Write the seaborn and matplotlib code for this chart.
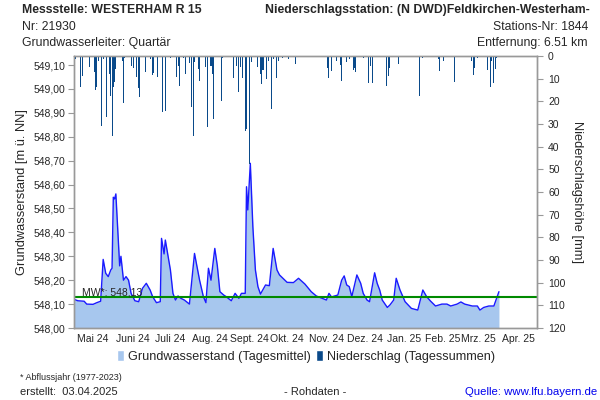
import matplotlib
matplotlib.use("Agg")
import matplotlib.pyplot as plt
import matplotlib.dates as mdates
from matplotlib.patches import Patch
import pandas as pd
import seaborn as sns

# groundwater level (daily mean), day offset from 2024-05-01 -> m ü. NN
gw_day = [0, 3, 8, 10, 15, 18, 21, 23, 25, 27, 29, 30, 31, 32, 33, 36, 37, 39, 41, 43,
          45, 48, 51, 54, 57, 60, 62, 65, 68, 69, 71, 72, 76, 78, 80, 82, 84, 87, 91, 95,
          99, 102, 104, 106, 108, 111, 113, 115, 118, 120, 124, 127, 130, 132, 135, 136, 137, 139, 141, 143,
          145, 147, 151, 154, 157, 160, 162, 168, 173, 177, 182, 187, 191, 199, 201, 203, 208, 211, 213, 215,
          217, 219, 223, 226, 228, 231, 233, 237, 239, 241, 243, 247, 249, 252, 254, 257, 261, 266, 271, 275,
          278, 281, 285, 290, 294, 297, 302, 305, 308, 314, 318, 320, 323, 327, 331, 335]
gw_level = [548.120, 548.114, 548.112, 548.100, 548.099, 548.106, 548.112, 548.287, 548.229, 548.215,
            548.243, 548.250, 548.547, 548.540, 548.561, 548.260, 548.300, 548.200, 548.215, 548.200,
            548.145, 548.114, 548.110, 548.166, 548.187, 548.159, 548.131, 548.106, 548.110, 548.375,
            548.310, 548.368, 548.243, 548.145, 548.117, 548.134, 548.125, 548.117, 548.100, 548.312,
            548.200, 548.131, 548.106, 548.250, 548.200, 548.333, 548.260, 548.152, 548.138, 548.131,
            548.114, 548.145, 548.124, 548.145, 548.145, 548.591, 548.494, 548.689, 548.424, 548.243,
            548.173, 548.142, 548.180, 548.177, 548.333, 548.243, 548.222, 548.191, 548.190, 548.208,
            548.184, 548.152, 548.134, 548.117, 548.145, 548.130, 548.138, 548.200, 548.218, 548.180,
            548.173, 548.131, 548.222, 548.187, 548.145, 548.117, 548.110, 548.231, 548.187, 548.159,
            548.117, 548.086, 548.096, 548.117, 548.208, 548.159, 548.110, 548.082, 548.075, 548.159,
            548.131, 548.113, 548.092, 548.100, 548.100, 548.092, 548.100, 548.109, 548.100, 548.092,
            548.092, 548.075, 548.086, 548.092, 548.092, 548.152]

# precipitation (daily sums), day offset -> mm
rain_day = [1, 5, 7, 12, 16, 17, 18, 19, 22, 23, 26, 28, 29, 30, 31, 32, 33, 38, 39, 40,
            45, 47, 49, 51, 52, 56, 60, 62, 63, 66, 70, 72, 76, 81, 82, 83, 86, 88, 91, 93,
            94, 95, 98, 99, 104, 105, 108, 109, 110, 116, 117, 126, 128, 130, 131, 133, 135, 136, 138, 140,
            145, 147, 148, 149, 152, 153, 156, 157, 160, 161, 164, 169, 175, 200, 201, 203, 207, 210, 211, 215,
            217, 220, 221, 222, 228, 232, 234, 235, 246, 248, 249, 256, 261, 272, 275, 287, 288, 291, 300, 313,
            315, 316, 318, 319, 326, 328, 329, 331, 332, 333]
rain_mm = [1.5, 13.5, 8.7, 4.7, 7.2, 15.0, 13.8, 2.0, 31.0, 1.5, 26.8, 7.9, 17.8, 35.4, 13.5, 11.6, 5.7, 2.4, 20.9, 1.0,
           4.3, 5.3, 9.4, 14.3, 18.2, 7.2, 1.5, 8.2, 7.6, 9.4, 24.6, 24.1, 0.8, 9.1, 4.3, 13.4, 1.0, 8.0, 3.2, 22.6,
           35.1, 2.5, 5.7, 11.2, 5.0, 31.5, 4.3, 8.0, 27.8, 19.7, 1.0, 9.7, 4.3, 16.0, 5.0, 9.7, 33.2, 32.2, 47.6, 2.5,
           5.0, 8.0, 12.3, 6.0, 10.2, 2.0, 23.4, 1.5, 9.8, 2.0, 1.0, 1.5, 3.5, 5.3, 9.7, 6.8, 2.0, 3.8, 10.9, 2.5,
           1.5, 6.2, 5.5, 7.2, 1.0, 12.0, 4.3, 12.0, 13.4, 8.7, 5.5, 3.5, 0.5, 17.5, 1.0, 1.5, 6.8, 2.4, 11.6, 2.0,
           8.2, 5.3, 1.0, 0.5, 6.2, 13.8, 2.0, 12.0, 5.7, 1.0]

month_labels = ["Mai 24", "Juni 24", "Juli 24", "Aug. 24", "Sept. 24", "Okt. 24",
                "Nov. 24", "Dez. 24", "Jan. 25", "Feb. 25", "Mrz. 25", "Apr. 25"]
mean_level = 548.13

start = pd.Timestamp("2024-05-01")
end = pd.Timestamp("2025-05-01")
gw = pd.DataFrame({"date": start + pd.to_timedelta(gw_day, unit="D"), "level": gw_level})
rain = pd.DataFrame({"date": start + pd.to_timedelta(rain_day, unit="D"), "mm": rain_mm})

sns.set_style("white")
plt.rcParams["font.family"] = ["Liberation Sans", "DejaVu Sans"]

fill_col = "#a7c7ee"
line_col = "#1a1aff"
rain_col = "#0a4a8a"
spine_col = "#999999"

fig = plt.figure(figsize=(6, 4), dpi=100)
ax = fig.add_axes([74 / 600, 72 / 400, 463 / 600, 272 / 400])

ax.fill_between(gw["date"], 548.0, gw["level"], color=fill_col, lw=0)
sns.lineplot(data=gw, x="date", y="level", ax=ax, color=line_col, lw=1)
ax.axhline(mean_level, color="#008a00", lw=1.5)
ax.text(start + pd.Timedelta(days=6), mean_level + 0.004, "MW*: 548,13", fontsize=7.5)

ax.set_xlim(start, end)
ax.set_ylim(548.0, 549.138)
ax.set_yticks([548.0 + 0.1 * i for i in range(12)])
ax.set_yticklabels([f"{548.0 + 0.1 * i:.2f}".replace(".", ",") for i in range(12)], fontsize=7.5)
ax.set_xlabel("")
ax.set_ylabel("Grundwasserstand [m ü. NN]", fontsize=9.3)
ax.yaxis.set_label_coords(-0.1, 0.5)

ax.xaxis.set_major_locator(mdates.MonthLocator())
ax.xaxis.set_major_formatter(plt.NullFormatter())
mids = pd.date_range(start, periods=12, freq="MS") + pd.Timedelta(days=15)
ax.set_xticks(mids, minor=True)
ax.set_xticklabels(month_labels, minor=True, fontsize=7.5)
ax.tick_params(axis="x", which="minor", length=0, pad=4)
ax.tick_params(axis="x", which="major", length=4, color=spine_col, direction="out")
ax.tick_params(axis="y", length=4, color=spine_col, direction="out", pad=2, left=True)

ax2 = ax.twinx()
ax2.bar(rain["date"], rain["mm"], width=0.8, color=rain_col, lw=0)
ax2.set_ylim(120, 0)
ax2.set_yticks(range(0, 121, 10))
ax2.set_yticklabels([str(v) for v in range(0, 121, 10)], fontsize=7.5)
ax2.tick_params(axis="y", length=4, color=spine_col, direction="out", pad=4, right=True)
ax2.set_ylabel("Niederschlagshöhe [mm]", fontsize=9.3, rotation=270)
ax2.yaxis.set_label_coords(1.1, 0.5)

for a in (ax, ax2):
    for s in a.spines.values():
        s.set_color(spine_col)
        s.set_linewidth(1)

fig.legend(handles=[Patch(facecolor=fill_col, label="Grundwasserstand (Tagesmittel)"),
                    Patch(facecolor=rain_col, label="Niederschlag (Tagessummen)")],
           loc="center", bbox_to_anchor=(0.51, 0.108), ncol=2, frameon=False, fontsize=9.1,
           handlelength=0.6, handleheight=0.9, handletextpad=0.3, columnspacing=0.4)

fig.text(22 / 600, 1 - 10 / 400, "Messstelle: WESTERHAM R 15", fontsize=8.8, fontweight="bold", va="center")
fig.text(22 / 600, 1 - 27 / 400, "Nr: 21930", fontsize=8.8, va="center")
fig.text(22 / 600, 1 - 43 / 400, "Grundwasserleiter: Quartär", fontsize=8.8, va="center")
fig.text(265 / 600, 1 - 10 / 400, "Niederschlagsstation: (N DWD)Feldkirchen-Westerham-", fontsize=8.8,
         fontweight="bold", va="center")
fig.text(588 / 600, 1 - 27 / 400, "Stations-Nr: 1844", fontsize=8.8, va="center", ha="right")
fig.text(588 / 600, 1 - 43 / 400, "Entfernung: 6.51 km", fontsize=8.8, va="center", ha="right")

fig.text(20 / 600, 1 - 377 / 400, "* Abflussjahr (1977-2023)", fontsize=6.5, va="center")
fig.text(20 / 600, 1 - 392 / 400, "erstellt:  03.04.2025", fontsize=8, va="center")
fig.text(315 / 600, 1 - 392 / 400, "- Rohdaten -", fontsize=8, va="center", ha="center")
fig.text(597 / 600, 1 - 392 / 400, "Quelle: www.lfu.bayern.de", fontsize=8.2, va="center", ha="right",
         color="#0000ee")

fig.savefig("out.png", dpi=100)
